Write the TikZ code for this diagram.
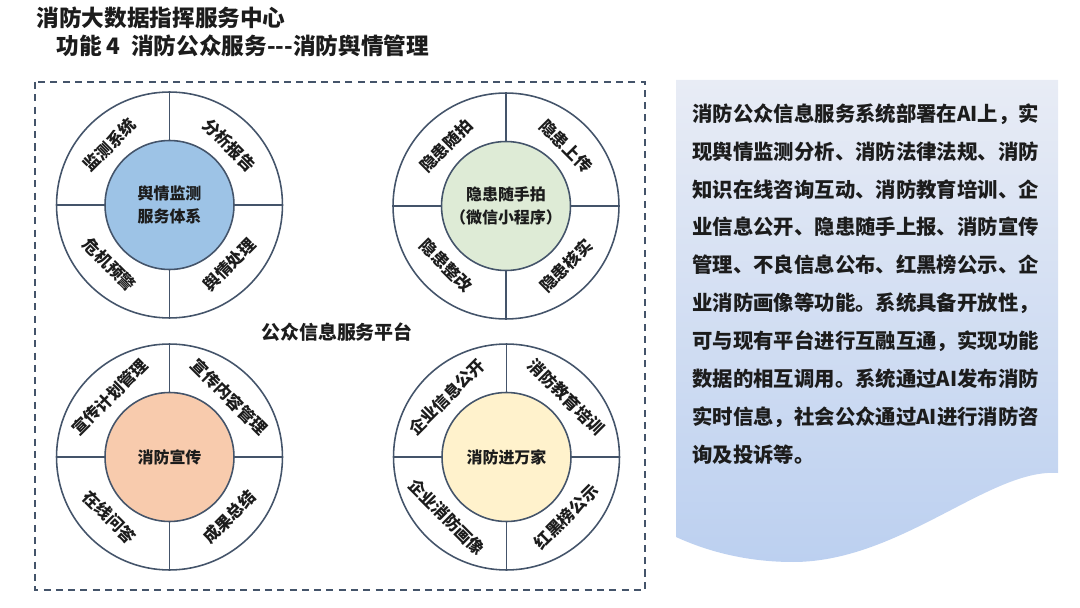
\documentclass[tikz,border=0pt]{standalone}
\usepackage{fontspec}
\setmainfont{Noto Sans CJK SC}[BoldFont={Noto Sans CJK SC Black}]
\usetikzlibrary{calc}
\definecolor{lineblue}{RGB}{68,84,106}
\definecolor{yuqing}{RGB}{157,195,230}
\definecolor{yinhuan}{RGB}{222,235,214}
\definecolor{xuanchuan}{RGB}{248,203,173}
\definecolor{wanjia}{RGB}{255,242,204}
\definecolor{paneltop}{RGB}{232,236,245}
\definecolor{panelbottom}{RGB}{188,208,240}
\definecolor{textdark}{RGB}{28,28,28}

\tikzset{
  ring/.style={circle, draw=lineblue, line width=0.9pt, minimum size=4.52cm, inner sep=0pt},
  hub/.style={circle, draw=lineblue, line width=0.9pt, minimum size=2.58cm, inner sep=0pt, align=center, text=textdark, font=\bfseries\fontsize{9.1pt}{13pt}\selectfont},
  spoke/.style={draw=lineblue, line width=0.9pt},
  ringtext/.style={inner sep=0pt, text=textdark, font=\bfseries\fontsize{9.4pt}{11pt}\selectfont}
}

\begin{document}
\begin{tikzpicture}[x=0.02cm, y=-0.02cm]
\useasboundingbox (0,0) rectangle (1080,608);

% 标题
\node[anchor=west, inner sep=0pt, text=textdark, font=\bfseries\fontsize{12.9pt}{14pt}\selectfont] (title) at (36,18) {消防大数据指挥服务中心};
\node[anchor=west, inner sep=0pt, text=textdark, font=\bfseries\fontsize{12.9pt}{14pt}\selectfont] (subtitle) at (56,46) {功能 4\ \ 消防公众服务-{}-{}-消防舆情管理};

% 虚线框
\draw[lineblue, line width=0.9pt, dash pattern=on 4pt off 3pt] (35,82) rectangle (645,590);
\node[text=textdark, font=\bfseries\fontsize{10.8pt}{13pt}\selectfont] (platform) at (337,332) {公众信息服务平台};

% 舆情监测
\node[ring] (yqring) at (169.5,205) {};
\node[hub, fill=yuqing] (yqhub) at (yqring) {舆情监测\\服务体系};
\draw[spoke] (yqring.north) -- (yqhub.north) (yqring.south) -- (yqhub.south)
  (yqring.east) -- (yqhub.east) (yqring.west) -- (yqhub.west);
\node[ringtext, rotate=45] (yqa) at ($(yqhub.135)!0.4!(yqring.135)$) {监测系统};
\node[ringtext, rotate=-45] (yqb) at ($(yqhub.45)!0.4!(yqring.45)$) {分析报告};
\node[ringtext, rotate=-45] (yqc) at ($(yqhub.225)!0.4!(yqring.225)$) {危机预警};
\node[ringtext, rotate=45] (yqd) at ($(yqhub.315)!0.4!(yqring.315)$) {舆情处理};

% 隐患随手拍
\node[ring] (yhring) at (506,206) {};
\node[hub, fill=yinhuan] (yhhub) at (yhring) {隐患随手拍\\（微信小程序）};
\draw[spoke] (yhring.north) -- (yhhub.north) (yhring.south) -- (yhhub.south)
  (yhring.east) -- (yhhub.east) (yhring.west) -- (yhhub.west);
\node[ringtext, rotate=45] (yha) at ($(yhhub.135)!0.4!(yhring.135)$) {隐患随拍};
\node[ringtext, rotate=-45] (yhb) at ($(yhhub.45)!0.4!(yhring.45)$) {隐患上传};
\node[ringtext, rotate=-45] (yhc) at ($(yhhub.225)!0.4!(yhring.225)$) {隐患整改};
\node[ringtext, rotate=45] (yhd) at ($(yhhub.315)!0.4!(yhring.315)$) {隐患核实};

% 消防宣传
\node[ring] (xcring) at (169.5,457) {};
\node[hub, fill=xuanchuan] (xchub) at (xcring) {消防宣传};
\draw[spoke] (xcring.north) -- (xchub.north) (xcring.south) -- (xchub.south)
  (xcring.east) -- (xchub.east) (xcring.west) -- (xchub.west);
\node[ringtext, rotate=45] (xca) at ($(xchub.135)!0.4!(xcring.135)$) {宣传计划管理};
\node[ringtext, rotate=-45] (xcb) at ($(xchub.45)!0.4!(xcring.45)$) {宣传内容管理};
\node[ringtext, rotate=-45] (xcc) at ($(xchub.225)!0.4!(xcring.225)$) {在线问答};
\node[ringtext, rotate=45] (xcd) at ($(xchub.315)!0.4!(xcring.315)$) {成果总结};

% 消防进万家
\node[ring] (wjring) at (506.5,457) {};
\node[hub, fill=wanjia] (wjhub) at (wjring) {消防进万家};
\draw[spoke] (wjring.north) -- (wjhub.north) (wjring.south) -- (wjhub.south)
  (wjring.east) -- (wjhub.east) (wjring.west) -- (wjhub.west);
\node[ringtext, rotate=45] (wja) at ($(wjhub.135)!0.4!(wjring.135)$) {企业信息公开};
\node[ringtext, rotate=-45] (wjb) at ($(wjhub.45)!0.4!(wjring.45)$) {消防教育培训};
\node[ringtext, rotate=-45] (wjc) at ($(wjhub.225)!0.4!(wjring.225)$) {企业消防画像};
\node[ringtext, rotate=45] (wjd) at ($(wjhub.315)!0.4!(wjring.315)$) {红黑榜公示};

% 说明
\shade[top color=paneltop, bottom color=panelbottom] (676,80) -- (1058,80) -- (1058,473)
  .. controls (990,468) and (900,562) .. (793,562)
  .. controls (740,562) and (700,548) .. (676,537) -- cycle;
\node[anchor=north west, align=left, inner sep=0pt, text=textdark, font=\bfseries\fontsize{11.6pt}{21.6pt}\selectfont] (desc) at (692,103) {
  消防公众信息服务系统部署在AI上，实\\
  现舆情监测分析、消防法律法规、消防\\
  知识在线咨询互动、消防教育培训、企\\
  业信息公开、隐患随手上报、消防宣传\\
  管理、不良信息公布、红黑榜公示、企\\
  业消防画像等功能。系统具备开放性，\\
  可与现有平台进行互融互通，实现功能\\
  数据的相互调用。系统通过AI发布消防\\
  实时信息，社会公众通过AI进行消防咨\\
  询及投诉等。
};

\end{tikzpicture}
\end{document}
